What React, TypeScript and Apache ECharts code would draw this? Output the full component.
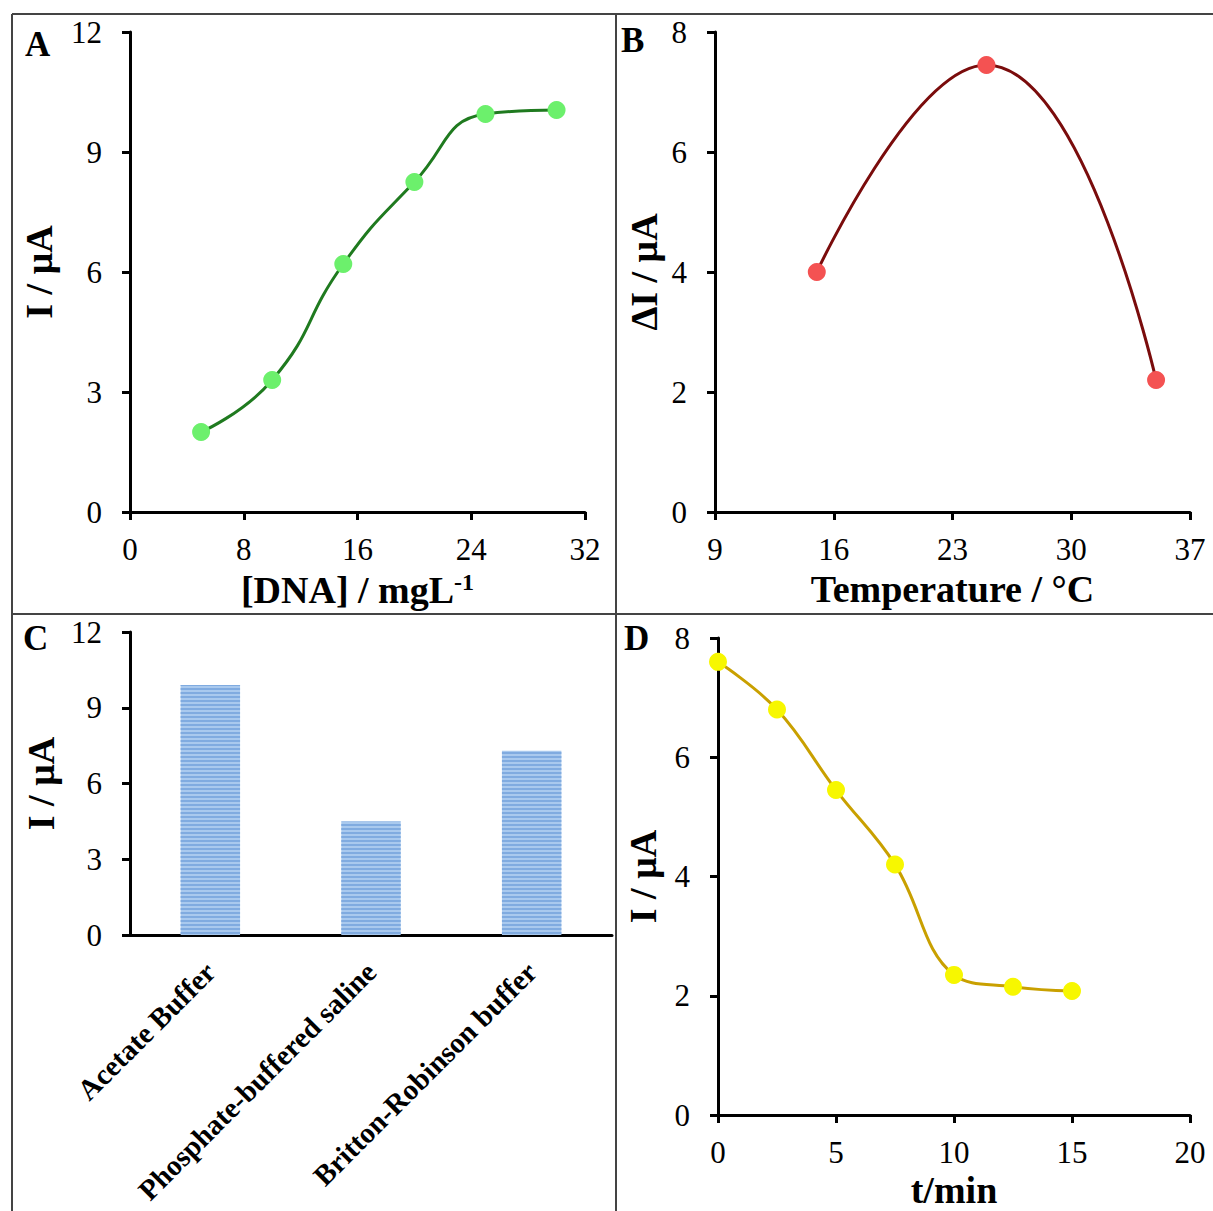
import React, { useEffect, useRef } from "react";
import * as echarts from "echarts";

const FONT = "Liberation Serif";

// Panel A
const dnaConc = [5, 10, 15, 20, 25, 30];
const dnaCurrent = [2.0, 3.3, 6.2, 8.25, 9.95, 10.05];
// Panel B
const temps = [15, 25, 35];
const tempDeltaI = [4.0, 7.45, 2.2];
const tempTicks = [9, 16, 23, 30, 37];
// Panel C
const buffers = ["Acetate Buffer", "Phosphate-buffered saline", "Britton-Robinson buffer"];
const bufferCurrent = [9.9, 4.5, 7.3];
// Panel D
const times = [0, 2.5, 5, 7.5, 10, 12.5, 15];
const timeCurrent = [7.6, 6.8, 5.45, 4.2, 2.35, 2.15, 2.08];

const tickLabel = { fontFamily: FONT, fontSize: 31, color: "#000" };
const titleStyle = { fontFamily: FONT, fontSize: 38, fontWeight: "bold" as const, color: "#000" };
const axisLine = { show: true, lineStyle: { color: "#000", width: 3 } };
const axisTick = { show: true, inside: false, length: 8, lineStyle: { color: "#000", width: 3 } };

function valueX(gridIndex: number, min: number, max: number, interval: number | null, name: string, nameGap: number, extra: any = {}) {
  const ax: any = {
    type: "value",
    gridIndex,
    min,
    max,
    name,
    nameLocation: "middle",
    nameGap,
    nameTextStyle: titleStyle,
    axisLine,
    axisTick,
    splitLine: { show: false },
    axisLabel: { ...tickLabel, margin: 22 },
    ...extra,
  };
  if (interval !== null) ax.interval = interval;
  return ax;
}

function valueY(gridIndex: number, max: number, interval: number, name: string, nameGap: number) {
  return {
    type: "value",
    gridIndex,
    min: 0,
    max,
    interval,
    name,
    nameLocation: "middle",
    nameGap,
    nameTextStyle: titleStyle,
    axisLine,
    axisTick,
    splitLine: { show: false },
    axisLabel: { ...tickLabel, margin: 28 },
  };
}

function pairs(xs: number[], ys: number[]) {
  return xs.map((x, i) => [x, ys[i]]);
}

export default function App() {
  const ref = useRef<HTMLDivElement>(null);
  useEffect(() => {
    if (!ref.current) return;
    const chart = echarts.init(ref.current, null, { renderer: "svg" });
    const border = { stroke: "#444", lineWidth: 2 };
    const letter = (t: string, x: number, y: number) => ({
      type: "text",
      x,
      y,
      style: { text: t, fontFamily: FONT, fontSize: 35, fontWeight: "bold", fill: "#000", verticalAlign: "middle" },
    });
    chart.setOption({
      animation: false,
      backgroundColor: "#fff",
      grid: [
        { left: 130, top: 32, width: 455, height: 480 },
        { left: 715, top: 32, width: 475, height: 480 },
        { left: 130, top: 632, width: 482, height: 303 },
        { left: 718, top: 638, width: 472, height: 477 },
      ],
      xAxis: [
        valueX(0, 0, 32, 8, "[DNA] / mgL{sup|-1}", 58, {
          nameTextStyle: {
            ...titleStyle,
            rich: {
              sup: { fontFamily: FONT, fontSize: 24, fontWeight: "bold", color: "#000", padding: [0, 0, 16, 0] },
            },
          },
        }),
        valueX(1, 9, 37, null, "Temperature / °C", 58, {
          axisLabel: { ...tickLabel, margin: 22, customValues: tempTicks },
          axisTick: { ...axisTick, customValues: tempTicks },
        }),
        {
          type: "category",
          gridIndex: 2,
          data: buffers,
          axisLine,
          axisTick: { show: false },
          axisLabel: {
            fontFamily: FONT,
            fontSize: 29,
            fontWeight: "bold",
            color: "#000",
            rotate: 45,
            margin: 32,
            interval: 0,
          },
        },
        valueX(3, 0, 20, 5, "t/min", 56),
      ],
      yAxis: [
        valueY(0, 12, 3, "I / μA", 72),
        valueY(1, 8, 2, "ΔI / μA", 52),
        valueY(2, 12, 3, "I / μA", 70),
        valueY(3, 8, 2, "I / μA", 56),
      ],
      series: [
        {
          type: "line",
          xAxisIndex: 0,
          yAxisIndex: 0,
          data: pairs(dnaConc, dnaCurrent),
          smooth: 0.5,
          symbol: "circle",
          symbolSize: 18,
          lineStyle: { color: "#1f7a1f", width: 3 },
          itemStyle: { color: "#6cf06c" },
        },
        {
          type: "line",
          xAxisIndex: 1,
          yAxisIndex: 1,
          data: pairs(temps, tempDeltaI),
          smooth: 0.5,
          symbol: "circle",
          symbolSize: 18,
          lineStyle: { color: "#7a0c0c", width: 3 },
          itemStyle: { color: "#f45252" },
        },
        {
          type: "bar",
          xAxisIndex: 2,
          yAxisIndex: 2,
          data: bufferCurrent,
          barWidth: "37%",
          itemStyle: {
            color: "#a9c9ee",
            decal: {
              symbol: "rect",
              symbolSize: 1,
              dashArrayX: [1, 0],
              dashArrayY: [2, 2],
              rotation: 0,
              color: "#80abe0",
            },
          },
        },
        {
          type: "line",
          xAxisIndex: 3,
          yAxisIndex: 3,
          data: pairs(times, timeCurrent),
          smooth: 0.4,
          symbol: "circle",
          symbolSize: 18,
          lineStyle: { color: "#c9a000", width: 3 },
          itemStyle: { color: "#f7f700" },
        },
      ],
      graphic: [
        { type: "line", shape: { x1: 12, y1: 14, x2: 1213, y2: 14 }, style: border },
        { type: "line", shape: { x1: 12, y1: 14, x2: 12, y2: 1211 }, style: border },
        { type: "line", shape: { x1: 616, y1: 14, x2: 616, y2: 1211 }, style: border },
        { type: "line", shape: { x1: 12, y1: 614, x2: 1213, y2: 614 }, style: border },
        letter("A", 25, 44),
        letter("B", 621, 40),
        letter("C", 23, 638),
        letter("D", 624, 638),
      ],
    });
    return () => chart.dispose();
  }, []);
  return <div ref={ref} style={{ position: "absolute", left: 0, top: 0, width: 1213, height: 1211 }} />;
}
